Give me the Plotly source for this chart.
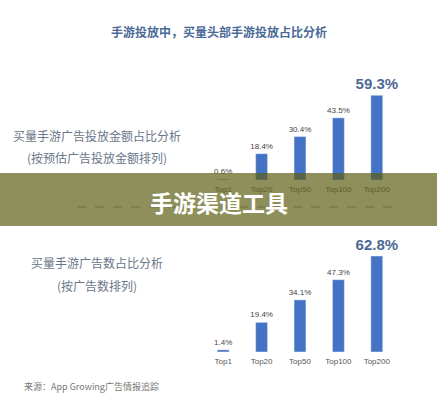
import plotly.graph_objects as go

# categories and values (percent)
categories = ['Top1', 'Top20', 'Top50', 'Top100', 'Top200']
spend_share = [0.6, 18.4, 30.4, 43.5, 59.3]   # 买量手游广告投放金额占比
ads_share = [1.4, 19.4, 34.1, 47.3, 62.8]     # 买量手游广告数占比

W, H = 437, 400
FONT = 'Noto Sans CJK SC'
BAR = '#4472C4'


def py(p):
    # pixel y (from top) -> paper y
    return 1 - p / H


def px_(p):
    return p / W


def labels(vals):
    out = []
    for i, v in enumerate(vals):
        if i == len(vals) - 1:
            out.append('<b>%.1f%%</b>' % v)
        else:
            out.append('%.1f%%' % v)
    return out


def note(text, x, y, font, xanchor='center'):
    fig.add_annotation(text=text, x=x, y=y, xref='paper', yref='paper',
                       xanchor=xanchor, yanchor='middle', showarrow=False, font=font)


sizes = [8, 8, 8, 8, 15]
colors = ['#444444'] * 4 + ['#4d6a93']

fig = go.Figure()

fig.add_trace(go.Bar(x=categories, y=spend_share, text=labels(spend_share),
                     textposition='outside', textfont=dict(size=sizes, color=colors, family='Arial'),
                     constraintext='none',
                     marker_color=BAR, cliponaxis=False, xaxis='x', yaxis='y'))
fig.add_trace(go.Bar(x=categories, y=ads_share, text=labels(ads_share),
                     textposition='outside', textfont=dict(size=sizes, color=colors, family='Arial'),
                     constraintext='none',
                     marker_color=BAR, cliponaxis=False, xaxis='x2', yaxis='y2'))

xdom = [px_(204), px_(396)]
tick = dict(size=8, color='#555555', family='Arial')
fig.update_layout(
    width=W, height=H,
    margin=dict(l=0, r=0, t=0, b=0),
    paper_bgcolor='white', plot_bgcolor='rgba(0,0,0,0)',
    font=dict(family=FONT),
    showlegend=False,
    bargap=0.69,
    xaxis=dict(domain=xdom, anchor='y', showgrid=False, showline=False, zeroline=False,
               tickfont=tick, ticks='', ticklabelstandoff=3),
    yaxis=dict(domain=[py(180), py(80)], range=[0, 70], visible=False),
    xaxis2=dict(domain=xdom, anchor='y2', showgrid=False, showline=False, zeroline=False,
                tickfont=tick, ticks='', ticklabelstandoff=3),
    yaxis2=dict(domain=[py(352), py(245)], range=[0, 70], visible=False),
)

# title
note('<b>手游投放中，买量头部手游投放占比分析</b>', 0.5, py(32), dict(size=12, color='#4b6a98'))

side = dict(size=12, color='#6a7688')
note('买量手游广告投放金额占比分析', px_(97), py(135), side)
note('(按预估广告投放金额排列)', px_(97), py(157), side)
note('买量手游广告数占比分析', px_(97), py(262), side)
note('(按广告数排列)', px_(97), py(285), side)

note('来源：App Growing广告情报追踪', px_(22), py(386), dict(size=9, color='#777777'), xanchor='left')

# banner overlay
fig.add_shape(type='rect', xref='paper', yref='paper', x0=0, x1=1, y0=py(226), y1=py(173),
              fillcolor='rgba(94,95,22,0.7)', line_width=0, layer='above')
fig.add_shape(type='line', xref='paper', yref='paper', x0=px_(77), x1=px_(395), y0=py(207), y1=py(207),
              line=dict(color='rgba(70,70,40,0.45)', width=1, dash='dash'), layer='above')
note('<b>手游渠道工具</b>', 0.5, py(202), dict(size=23, color='white'))

fig.write_html('out.html', config={'displayModeBar': False},
               post_script="document.body.style.margin='0';")
